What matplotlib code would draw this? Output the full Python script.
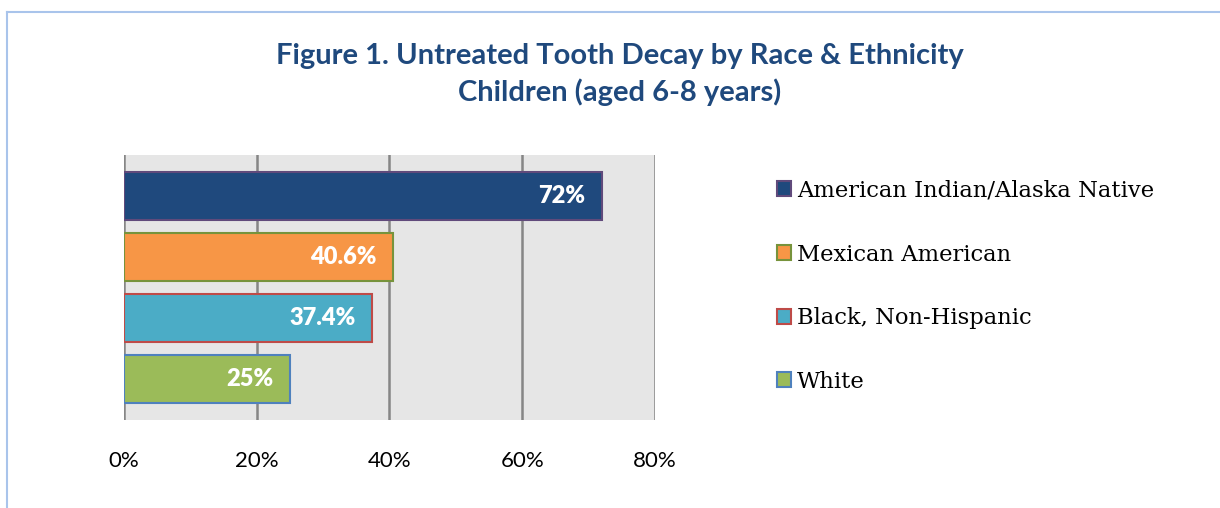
import matplotlib.pyplot as plt
from matplotlib.lines import Line2D
from matplotlib.patches import Patch

groups = ['American Indian/Alaska Native', 'Mexican American', 'Black, Non-Hispanic', 'White']
values = [72, 40.6, 37.4, 25]
value_labels = ['72%', '40.6%', '37.4%', '25%']
x_ticks = [0, 20, 40, 60, 80]
x_tick_labels = ['0%', '20%', '40%', '60%', '80%']

face_colors = ['#1f497d', '#f79646', '#4bacc6', '#9bbb59']
edge_colors = ['#604a7b', '#77933c', '#be4b48', '#4f81bd']

fig = plt.figure(figsize=(12.2, 5.08), dpi=100)
ax = fig.add_axes([0.1016, 0.1732, 0.4352, 0.5217])
ax.set_facecolor('#e6e6e6')

ypos = list(range(len(groups)))
ax.barh(ypos, values, height=0.79, color=face_colors, edgecolor=edge_colors, linewidth=1.5, zorder=3)

# labels inside bars, near the end
for y, v, lab in zip(ypos, values, value_labels):
    ax.annotate(lab, (v, y), xytext=(-12, 0), textcoords='offset points',
                ha='right', va='center', color='white', fontsize=17,
                fontweight='heavy', family='Lato', zorder=4)

ax.set_xlim(0, 80)
ax.set_ylim(3.67, -0.67)
ax.set_xticks(x_ticks)
ax.set_xticklabels(x_tick_labels, family='Lato', fontsize=16)
ax.set_yticks([])
ax.tick_params(axis='x', length=0, pad=22)
ax.grid(axis='x', color='#868686', linewidth=1.8, zorder=1)
for s in ax.spines.values():
    s.set_visible(False)

fig.suptitle('Figure 1. Untreated Tooth Decay by Race & Ethnicity\nChildren (aged 6-8 years)',
             x=0.508, y=0.916, fontsize=21, fontweight='bold', color='#1f497d',
             family='Lato', linespacing=1.42)

handles = [Patch(facecolor=fc, edgecolor=ec, linewidth=1.5) for fc, ec in zip(face_colors, edge_colors)]
fig.legend(handles, groups, loc='upper left', bbox_to_anchor=(0.62, 0.686),
           frameon=False, prop={'family': 'DejaVu Serif', 'size': 16.3},
           handlelength=0.65, handleheight=0.65, handletextpad=0.25, labelspacing=1.84)

# light blue frame (top and left edges)
fig.add_artist(Line2D([0.006, 1.0], [0.976, 0.976], color='#a9c4eb', linewidth=1.5))
fig.add_artist(Line2D([0.006, 0.006], [0.0, 0.976], color='#a9c4eb', linewidth=1.5))

fig.savefig('out.png', dpi=100)
